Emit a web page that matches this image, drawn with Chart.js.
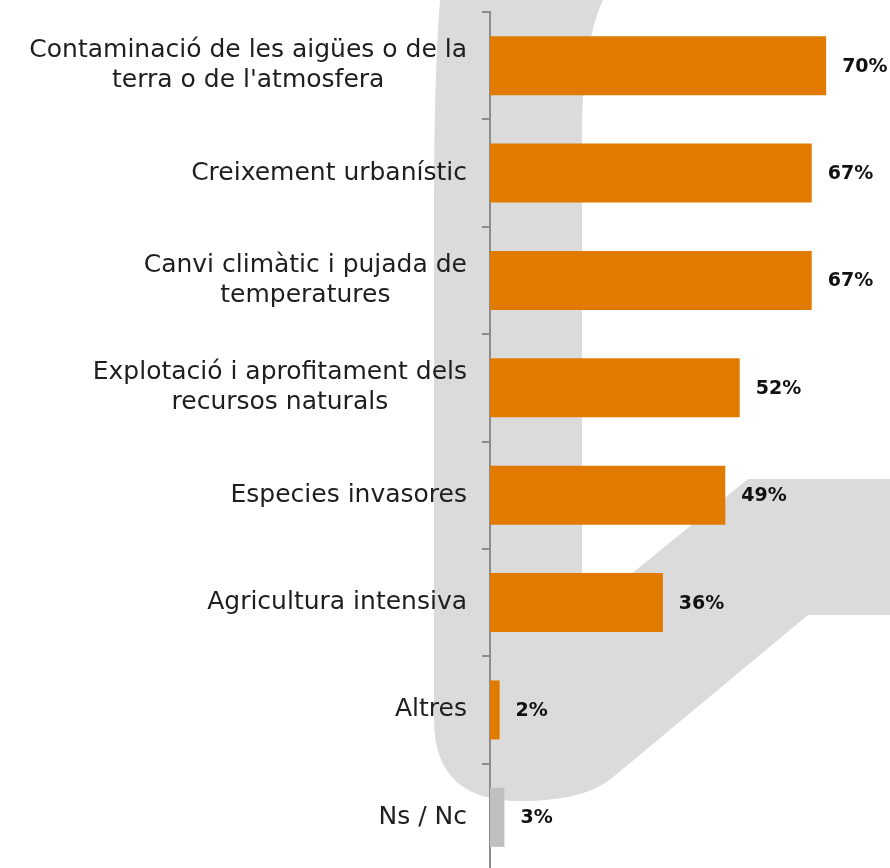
<!DOCTYPE html>
<html>
<head>
<meta charset="utf-8">
<script src="https://cdn.jsdelivr.net/npm/chart.js@4/dist/chart.umd.min.js"></script>
<style>
  html, body { margin: 0; padding: 0; background: #ffffff; overflow: hidden; }
  #wrap { width: 890px; height: 868px; overflow: hidden; }
</style>
</head>
<body>
<div id="wrap"><canvas id="c" width="890" height="871"></canvas></div>
<script>
const categories = [
  ["Contaminació de les aigües o de la", "terra o de l'atmosfera"],
  ["Creixement urbanístic"],
  ["Canvi climàtic i pujada de", "temperatures"],
  ["Explotació i aprofitament dels", "recursos naturals"],
  ["Especies invasores"],
  ["Agricultura intensiva"],
  ["Altres"],
  ["Ns / Nc"]
];
const values = [70, 67, 67, 52, 49, 36, 2, 3];
const valueLabels = ["70%", "67%", "67%", "52%", "49%", "36%", "2%", "3%"];
const barColors = ["#E07B00", "#E07B00", "#E07B00", "#E07B00", "#E07B00", "#E07B00", "#E07B00", "#BFBFBF"];

const watermark = {
  id: 'watermark',
  beforeDraw(chart) {
    const ctx = chart.ctx;
    ctx.save();
    ctx.fillStyle = '#DBDBDB';
    ctx.beginPath();
    ctx.moveTo(440, 0);
    ctx.lineTo(603, 0);
    ctx.quadraticCurveTo(582, 45, 582, 135);
    ctx.lineTo(582, 614);
    ctx.lineTo(748, 479);
    ctx.lineTo(890, 479);
    ctx.lineTo(890, 615);
    ctx.lineTo(808, 615);
    ctx.lineTo(612, 778);
    ctx.quadraticCurveTo(585, 801, 520, 801);
    ctx.quadraticCurveTo(434, 801, 434, 720);
    ctx.lineTo(434, 200);
    ctx.quadraticCurveTo(434, 80, 440, 0);
    ctx.closePath();
    ctx.fill();
    ctx.restore();
  }
};

// Category labels: block right-aligned to the axis, lines centred within the block
const categoryLabelPlugin = {
  id: 'categoryLabels',
  afterDraw(chart) {
    const ctx = chart.ctx;
    const yScale = chart.scales.y;
    const right = yScale.right - 8 - 15;
    const lineH = 30;
    ctx.save();
    ctx.font = '25px "DejaVu Sans"';
    ctx.fillStyle = '#1E1E1E';
    ctx.textAlign = 'center';
    ctx.textBaseline = 'middle';
    categories.forEach((lines, i) => {
      const cy = yScale.getPixelForValue(i);
      const maxW = Math.max(...lines.map(l => ctx.measureText(l).width));
      const cx = right - maxW / 2;
      const y0 = cy - (lines.length - 1) * lineH / 2;
      lines.forEach((l, k) => ctx.fillText(l, cx, y0 + k * lineH));
    });
    ctx.restore();
  }
};

const valueLabelPlugin = {
  id: 'valueLabels',
  afterDatasetsDraw(chart) {
    const ctx = chart.ctx;
    const meta = chart.getDatasetMeta(0);
    ctx.save();
    ctx.font = 'bold 19px "DejaVu Sans"';
    ctx.fillStyle = '#111111';
    ctx.textAlign = 'left';
    ctx.textBaseline = 'middle';
    meta.data.forEach((bar, i) => {
      ctx.fillText(valueLabels[i], bar.x + 16, bar.y + 1);
    });
    ctx.restore();
  }
};

new Chart(document.getElementById('c'), {
  type: 'bar',
  data: {
    labels: categories,
    datasets: [{
      data: values,
      backgroundColor: barColors,
      borderWidth: 0,
      barPercentage: 0.55,
      categoryPercentage: 1.0
    }]
  },
  options: {
    indexAxis: 'y',
    responsive: false,
    animation: false,
    events: [],
    layout: { padding: { top: 12, right: 0, bottom: 0, left: 0 } },
    plugins: { legend: { display: false }, tooltip: { enabled: false } },
    scales: {
      x: { display: false, min: 0, max: 83.3 },
      y: {
        afterFit(scale) { scale.width = 490; scale.paddingTop = 0; scale.paddingBottom = 0; },
        border: { display: true, color: '#8C8C8C', width: 2 },
        grid: { drawOnChartArea: false, drawTicks: true, tickLength: 8, color: '#8C8C8C', lineWidth: 2, offset: true },
        ticks: { display: false }
      }
    }
  },
  plugins: [watermark, valueLabelPlugin, categoryLabelPlugin]
});
</script>
</body>
</html>
